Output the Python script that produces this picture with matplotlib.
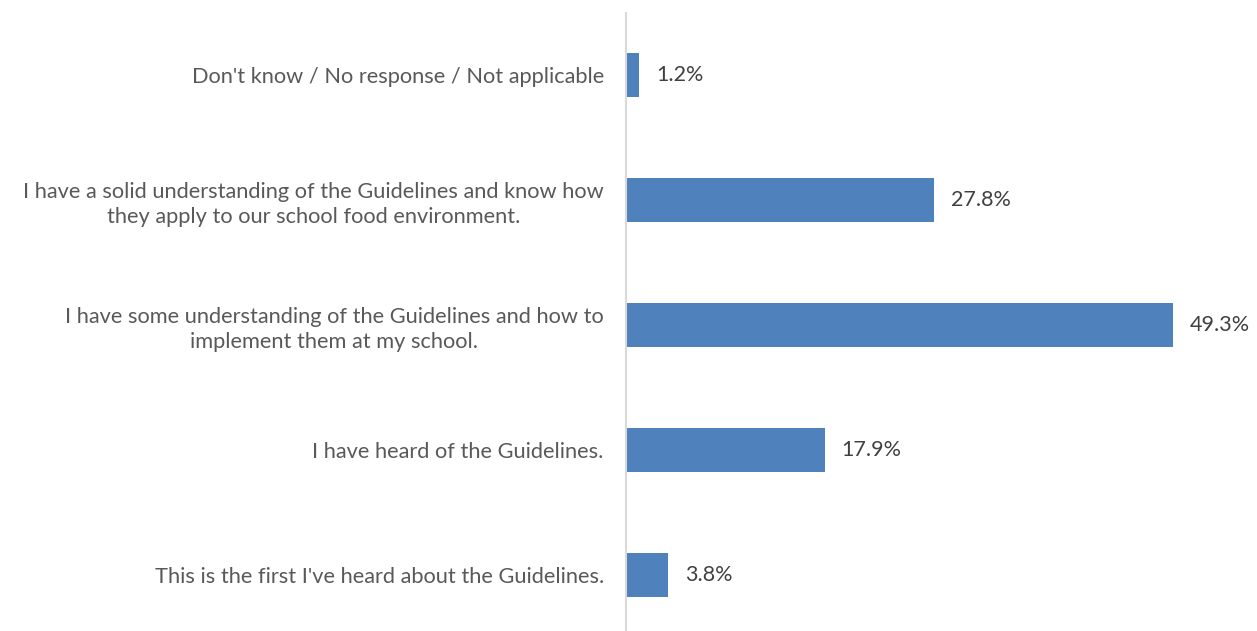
import matplotlib
matplotlib.use("Agg")
import matplotlib.pyplot as plt

plt.rcParams['font.family'] = ['Lato', 'DejaVu Sans']

# Data (top to bottom as shown)
categories = [
    "Don't know / No response / Not applicable",
    "I have a solid understanding of the Guidelines and know how\nthey apply to our school food environment.",
    "I have some understanding of the Guidelines and how to\nimplement them at my school.",
    "I have heard of the Guidelines.",
    "This is the first I've heard about the Guidelines.",
]
values = [1.2, 27.8, 49.3, 17.9, 3.8]

fig = plt.figure(figsize=(12.57, 6.31), dpi=100)
# axes: left edge at x=626px, rows 125px apart starting at y=12.5px
ax = fig.add_axes([626 / 1257, (631 - 637.5) / 631, 610 / 1257, 625 / 631])

ypos = list(range(len(categories)))
ax.barh(ypos, values, height=0.35, color='#4F81BD')
ax.set_ylim(len(categories) - 0.5, -0.5)
ax.set_xlim(0, 55)

for y, v in zip(ypos, values):
    ax.text(v + 1.5, y, f"{v:.1f}%", va='center', ha='left',
            fontsize=15.5, color='#404040')

ax.set_yticks(ypos)
ax.set_yticklabels(categories, fontsize=15.7, color='#595959',
                   multialignment='center', linespacing=1.3)
ax.tick_params(axis='y', length=0, pad=16)

ax.set_xticks([])
for s in ['top', 'right', 'bottom']:
    ax.spines[s].set_visible(False)
ax.spines['left'].set_color('#D9D9D9')
ax.spines['left'].set_linewidth(1.5)

fig.savefig("out.png", dpi=100)
